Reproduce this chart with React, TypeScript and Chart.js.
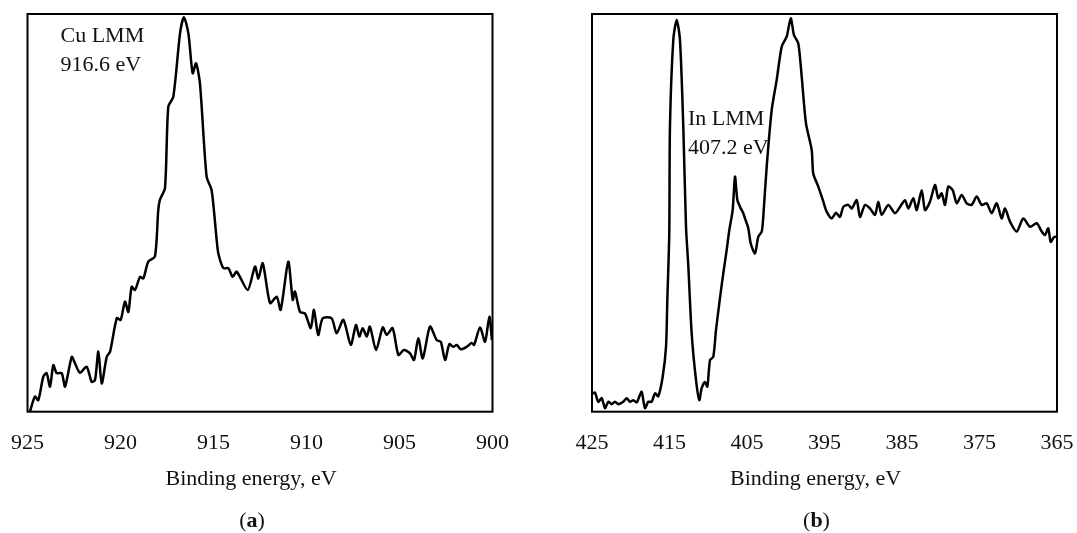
import React, { useEffect, useRef } from "react";
import { Chart, registerables } from "chart.js";

Chart.register(...registerables);

// ---- Data (binding energy in eV, intensity in arbitrary units 0-100) ----
const cuEnergy = [
  924.87, 924.6, 924.42, 924.15, 923.97, 923.79, 923.61, 923.43, 923.16, 922.98,
  922.62, 922.45, 922.18, 921.82, 921.55, 921.37, 921.19, 921.01, 920.74, 920.56,
  920.2, 919.99, 919.76, 919.58, 919.4, 919.22, 918.95, 918.77, 918.51, 918.15,
  917.97, 917.88, 917.61, 917.43, 917.16, 916.8, 916.59, 916.35, 916.12, 915.94,
  915.73, 915.37, 915.1, 914.83, 914.74, 914.47, 914.2, 913.97, 913.75, 913.16,
  912.77, 912.59, 912.35, 911.96, 911.6, 911.39, 910.98, 910.74, 910.62, 910.35,
  910.08, 909.77, 909.6, 909.37, 909.13, 908.65, 908.38, 908.02, 907.62, 907.34,
  907.16, 906.98, 906.76, 906.59, 906.26, 905.9, 905.69, 905.37, 905.06, 904.76,
  904.44, 904.22, 903.99, 903.75, 903.36, 903.0, 902.78, 902.55, 902.32, 902.11,
  901.92, 901.71, 901.39, 901.12, 900.99, 900.67, 900.4, 900.17, 900.03,
];
const cuIntensity = [
  0, 3.8, 2.9, 8.8, 9.7, 6.3, 11.7, 9.7, 9.7, 6.3,
  13.8, 12.2, 9.8, 11.3, 7.5, 8.0, 15.1, 7.1, 13.8, 15.1,
  23.5, 23.1, 27.7, 25.1, 31.4, 30.6, 33.9, 33.5, 37.7, 39.0,
  50.7, 53.3, 56.2, 76.7, 79.2, 95.1, 99.2, 95.1, 85.1, 87.6,
  82.6, 59.1, 55.7, 43.2, 39.8, 36.1, 36.1, 33.9, 35.2, 30.6,
  36.5, 33.5, 37.3, 27.3, 28.9, 25.6, 37.7, 28.1, 30.2, 25.1,
  24.7, 21.0, 25.6, 19.3, 23.5, 23.5, 19.7, 23.1, 16.8, 21.8,
  18.9, 21.0, 18.9, 21.4, 15.5, 21.2, 19.3, 21.0, 14.3, 15.5,
  14.7, 13.0, 18.5, 13.4, 21.4, 18.0, 17.6, 13.0, 17.0, 16.3,
  16.8, 15.7, 16.3, 17.3, 16.8, 21.2, 17.6, 23.9, 18.0,
];

const inEnergy = [
  424.91, 424.61, 424.19, 423.75, 423.32, 422.9, 422.46, 422.03, 421.61, 420.96,
  420.52, 420.1, 419.67, 419.23, 418.9, 418.59, 418.16, 417.74, 417.3, 416.87,
  416.45, 415.88, 415.45, 415.28, 415.03, 414.94, 414.51, 414.07, 413.65, 413.22,
  412.87, 412.57, 412.14, 411.58, 411.15, 410.85, 410.42, 410.12, 409.77, 409.35,
  409.0, 408.57, 408.06, 407.62, 407.28, 406.85, 406.55, 406.25, 405.9, 405.48,
  405.26, 404.83, 404.52, 403.97, 403.54, 403.1, 402.9, 402.46, 401.81, 401.17,
  400.52, 399.88, 399.36, 398.94, 398.38, 397.94, 397.39, 396.65, 396.45, 395.8,
  395.15, 394.72, 394.07, 393.52, 393.0, 392.57, 391.93, 391.49, 390.85, 390.42,
  389.77, 389.13, 388.48, 388.06, 387.62, 386.77, 385.9, 385.26, 384.61, 384.19,
  383.54, 383.1, 382.46, 382.03, 381.39, 380.74, 380.32, 379.88, 379.45, 379.03,
  378.46, 377.94, 377.3, 376.65, 376.01, 375.36, 374.72, 374.07, 373.43, 372.78,
  372.14, 371.71, 371.06, 370.2, 369.35, 368.48, 367.62, 366.97, 366.55, 366.13,
  365.81, 365.39, 365.04,
];
const inIntensity = [
  4.6, 4.8, 2.5, 3.4, 0.9, 2.5, 1.9, 2.5, 1.9, 2.5,
  3.4, 2.5, 2.9, 2.3, 3.8, 5.0, 0.9, 2.5, 2.5, 4.6,
  3.9, 8.8, 16.3, 28.1, 44.9, 71.7, 93.5, 98.5, 93.5, 71.7,
  46.5, 36.5, 19.7, 8.0, 2.9, 5.9, 7.5, 6.3, 13.0, 13.8,
  20.5, 27.3, 34.8, 40.7, 45.7, 50.7, 59.1, 53.3, 51.5, 49.9,
  48.6, 46.1, 42.3, 39.8, 44.0, 45.3, 49.0, 61.6, 75.9, 83.4,
  91.8, 94.3, 98.9, 94.7, 92.6, 84.2, 72.5, 65.8, 59.9, 56.6,
  52.8, 50.3, 48.6, 50.0, 49.0, 51.5, 52.0, 51.1, 53.2, 49.0,
  52.0, 51.1, 49.5, 52.8, 49.5, 52.0, 49.9, 51.5, 53.2, 51.1,
  53.7, 50.7, 55.7, 50.7, 52.8, 57.0, 53.7, 54.9, 52.0, 56.6,
  55.7, 52.4, 54.5, 52.4, 52.0, 54.1, 52.0, 52.4, 49.9, 52.4,
  48.6, 51.1, 47.8, 45.3, 48.6, 46.5, 47.4, 45.3, 44.4, 46.1,
  42.7, 43.9, 44.0,
];

const cuTicks = [925, 920, 915, 910, 905, 900];
const inTicks = [425, 415, 405, 395, 385, 375, 365];
const xTitle = "Binding energy, eV";
const cuLabel = ["Cu LMM", "916.6 eV"];
const inLabel = ["In LMM", "407.2 eV"];

const FONT = "'Liberation Serif', 'Times New Roman', serif";

type PanelProps = {
  energy: number[];
  intensity: number[];
  ticks: number[];
  label: string[];
  letter: string;
  canvasLeft: number;
  canvasWidth: number;
  padLeft: number;
  padRight: number;
  labelX: number;
  labelY: number;
  titleShift: number;
};

function Panel(p: PanelProps) {
  const ref = useRef<HTMLCanvasElement | null>(null);
  useEffect(() => {
    if (!ref.current) return;
    const min = Math.min(...p.ticks);
    const max = Math.max(...p.ticks);
    const step = Math.abs(p.ticks[1] - p.ticks[0]);
    const data = p.energy.map((e, i) => ({ x: e, y: p.intensity[i] }));

    const decor = {
      id: "decor",
      afterDatasetsDraw(chart: any) {
        const { ctx, chartArea } = chart;
        ctx.save();
        ctx.strokeStyle = "#000";
        ctx.lineWidth = 2;
        ctx.strokeRect(
          chartArea.left,
          chartArea.top,
          chartArea.right - chartArea.left,
          chartArea.bottom - chartArea.top
        );
        ctx.fillStyle = "#111";
        ctx.font = `22px ${FONT}`;
        ctx.textAlign = "left";
        ctx.textBaseline = "alphabetic";
        ctx.fillText(p.label[0], chartArea.left + p.labelX, p.labelY);
        ctx.fillText(p.label[1], chartArea.left + p.labelX, p.labelY + 29);

        const cx = (chartArea.left + chartArea.right) / 2 + p.titleShift;
        ctx.textAlign = "center";
        ctx.fillText(xTitle, cx, 485);

        // caption "(a)" with bold letter
        ctx.textAlign = "left";
        ctx.font = `22px ${FONT}`;
        const wp = ctx.measureText("(").width;
        const wq = ctx.measureText(")").width;
        ctx.font = `bold 22px ${FONT}`;
        const wl = ctx.measureText(p.letter).width;
        const x0 = cx + 1 - (wp + wl + wq) / 2;
        ctx.font = `22px ${FONT}`;
        ctx.fillText("(", x0, 527);
        ctx.font = `bold 22px ${FONT}`;
        ctx.fillText(p.letter, x0 + wp, 527);
        ctx.font = `22px ${FONT}`;
        ctx.fillText(")", x0 + wp + wl, 527);
        ctx.restore();
      },
    };

    const chart = new Chart(ref.current, {
      type: "line",
      data: {
        datasets: [
          {
            data,
            borderColor: "#000",
            borderWidth: 2.5,
            pointRadius: 0,
            tension: 0.25,
            fill: false,
          },
        ],
      },
      options: {
        animation: false,
        responsive: false,
        maintainAspectRatio: false,
        layout: {
          padding: { left: p.padLeft, right: p.padRight, top: 14, bottom: 0 },
        },
        plugins: {
          legend: { display: false },
          tooltip: { enabled: false },
        },
        scales: {
          x: {
            type: "linear",
            reverse: true,
            min,
            max,
            afterFit(scale: any) {
              scale.height = 121.3;
              scale.paddingLeft = 0;
              scale.paddingRight = 0;
            },
            ticks: {
              stepSize: step,
              padding: 18,
              color: "#111",
              font: { family: FONT, size: 22 },
              maxRotation: 0,
              autoSkip: false,
            },
            grid: { display: false, drawTicks: false },
            border: { display: false },
          },
          y: {
            display: false,
            min: 0,
            max: 100,
          },
        },
      },
      plugins: [decor],
    });
    return () => chart.destroy();
  }, []);
  return (
    <canvas
      ref={ref}
      width={p.canvasWidth}
      height={533}
      style={{
        position: "absolute",
        left: p.canvasLeft,
        top: 0,
        width: p.canvasWidth,
        height: 533,
      }}
    />
  );
}

export default function App() {
  return (
    <div
      style={{
        position: "fixed",
        left: 0,
        top: 0,
        width: 1077,
        height: 533,
        background: "#fff",
        overflow: "hidden",
      }}
    >
      <Panel
        energy={cuEnergy}
        intensity={cuIntensity}
        ticks={cuTicks}
        label={cuLabel}
        letter="a"
        canvasLeft={0}
        canvasWidth={540}
        padLeft={27.5}
        padRight={47.5}
        labelX={33}
        labelY={41.5}
        titleShift={-9}
      />
      <Panel
        energy={inEnergy}
        intensity={inIntensity}
        ticks={inTicks}
        label={inLabel}
        letter="b"
        canvasLeft={540}
        canvasWidth={537}
        padLeft={52}
        padRight={20}
        labelX={96}
        labelY={125}
        titleShift={-9}
      />
    </div>
  );
}
